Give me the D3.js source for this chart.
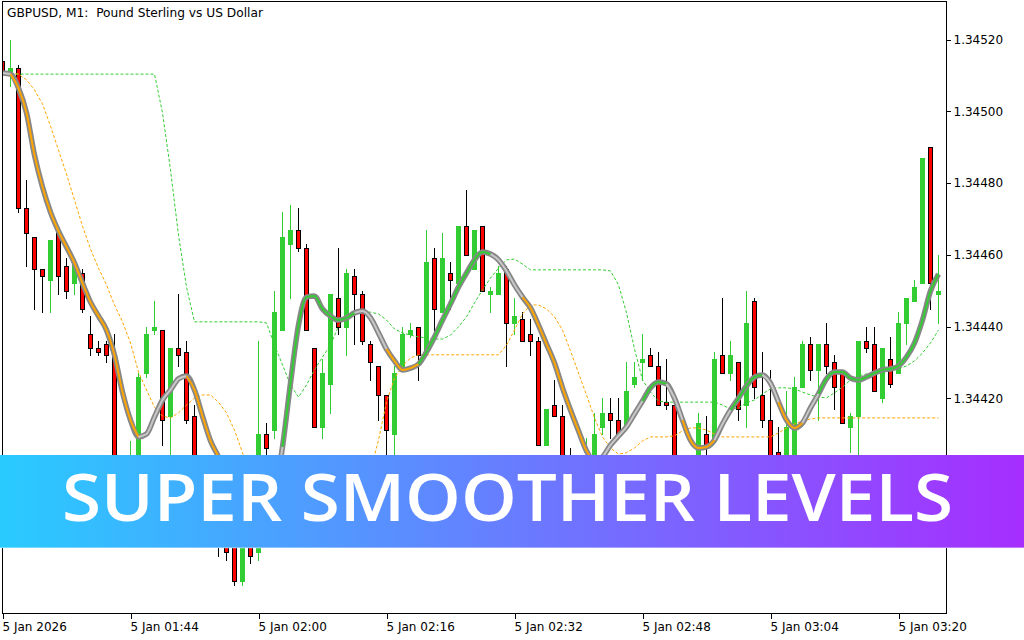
<!DOCTYPE html>
<html><head><meta charset="utf-8">
<script src="https://cdn.jsdelivr.net/npm/d3@7"></script>
<style>body{margin:0;background:#fff}svg{display:block}</style>
</head><body>
<svg id="chart" width="1024" height="640"></svg>
<script>
// ---- DATA (GBPUSD M1, 5 Jan 2026 01:28 .. 03:25) ----
const openP = [1.34514,1.34511,1.34512,1.34473,1.34465,1.34456,1.34453,1.34467,1.34457,1.34452,1.34455,1.34438,1.34434,1.34435,1.34432,1.34393,1.34394,1.34400,1.34427,1.34439,1.34439,1.34415,1.34434,1.34433,1.34415,1.34400,1.34392,1.34385,1.34379,1.34380,1.34369,1.34379,1.34377,1.34410,1.34411,1.34439,1.34463,1.34467,1.34462,1.34434,1.34412,1.34424,1.34448,1.34440,1.34454,1.34449,1.34435,1.34429,1.34421,1.34410,1.34428,1.34438,1.34440,1.34433,1.34459,1.34444,1.34455,1.34452,1.34468,1.34456,1.34468,1.34449,1.34449,1.34456,1.34441,1.34442,1.34438,1.34436,1.34407,1.34418,1.34415,1.34404,1.34396,1.34392,1.34401,1.34412,1.34416,1.34414,1.34412,1.34424,1.34430,1.34432,1.34429,1.34419,1.34418,1.34401,1.34397,1.34400,1.34410,1.34408,1.34432,1.34427,1.34430,1.34418,1.34447,1.34421,1.34414,1.34405,1.34400,1.34401,1.34423,1.34435,1.34428,1.34435,1.34430,1.34428,1.34412,1.34415,1.34436,1.34435,1.34420,1.34431,1.34427,1.34441,1.34447,1.34452,1.34490,1.34449];
const highP = [1.34515,1.34520,1.34513,1.34481,1.34465,1.34456,1.34464,1.34468,1.34459,1.34459,1.34456,1.34443,1.34436,1.34436,1.34438,1.34403,1.34408,1.34427,1.34440,1.34447,1.34439,1.34434,1.34449,1.34436,1.34418,1.34402,1.34393,1.34386,1.34381,1.34381,1.34380,1.34380,1.34436,1.34413,1.34450,1.34472,1.34474,1.34473,1.34463,1.34434,1.34431,1.34449,1.34462,1.34456,1.34456,1.34450,1.34436,1.34429,1.34421,1.34429,1.34440,1.34441,1.34440,1.34467,1.34462,1.34466,1.34458,1.34468,1.34478,1.34467,1.34468,1.34451,1.34457,1.34457,1.34448,1.34444,1.34442,1.34437,1.34417,1.34425,1.34418,1.34406,1.34399,1.34409,1.34416,1.34420,1.34420,1.34420,1.34430,1.34430,1.34438,1.34434,1.34433,1.34431,1.34418,1.34403,1.34403,1.34416,1.34415,1.34433,1.34448,1.34436,1.34430,1.34450,1.34448,1.34433,1.34428,1.34412,1.34422,1.34426,1.34436,1.34437,1.34435,1.34441,1.34432,1.34428,1.34416,1.34436,1.34440,1.34440,1.34434,1.34437,1.34444,1.34448,1.34453,1.34487,1.34490,1.34460];
const lowP = [1.34510,1.34507,1.34472,1.34457,1.34445,1.34444,1.34444,1.34449,1.34448,1.34449,1.34444,1.34432,1.34432,1.34430,1.34398,1.34390,1.34392,1.34397,1.34426,1.34438,1.34407,1.34403,1.34429,1.34413,1.34398,1.34390,1.34383,1.34376,1.34375,1.34368,1.34368,1.34374,1.34375,1.34403,1.34409,1.34439,1.34448,1.34461,1.34439,1.34412,1.34409,1.34416,1.34438,1.34432,1.34435,1.34435,1.34425,1.34414,1.34403,1.34403,1.34428,1.34437,1.34425,1.34432,1.34438,1.34444,1.34445,1.34452,1.34460,1.34456,1.34450,1.34444,1.34449,1.34429,1.34438,1.34436,1.34432,1.34407,1.34407,1.34415,1.34399,1.34393,1.34390,1.34390,1.34400,1.34410,1.34409,1.34410,1.34412,1.34423,1.34425,1.34429,1.34418,1.34417,1.34400,1.34394,1.34395,1.34399,1.34404,1.34408,1.34427,1.34425,1.34414,1.34412,1.34420,1.34412,1.34399,1.34400,1.34399,1.34400,1.34423,1.34425,1.34414,1.34427,1.34417,1.34413,1.34405,1.34403,1.34433,1.34422,1.34419,1.34423,1.34427,1.34435,1.34447,1.34452,1.34445,1.34441];
const closeP = [1.34511,1.34512,1.34473,1.34466,1.34456,1.34454,1.34464,1.34454,1.34450,1.34458,1.34445,1.34434,1.34433,1.34432,1.34400,1.34402,1.34403,1.34426,1.34438,1.34440,1.34414,1.34434,1.34432,1.34414,1.34400,1.34392,1.34385,1.34379,1.34377,1.34369,1.34379,1.34376,1.34410,1.34406,1.34444,1.34465,1.34467,1.34462,1.34439,1.34412,1.34427,1.34449,1.34440,1.34455,1.34449,1.34436,1.34430,1.34421,1.34411,1.34427,1.34438,1.34439,1.34432,1.34458,1.34445,1.34459,1.34453,1.34468,1.34460,1.34467,1.34450,1.34450,1.34455,1.34441,1.34443,1.34436,1.34436,1.34407,1.34417,1.34415,1.34400,1.34396,1.34392,1.34401,1.34410,1.34416,1.34414,1.34410,1.34422,1.34426,1.34431,1.34429,1.34418,1.34418,1.34401,1.34397,1.34400,1.34413,1.34406,1.34431,1.34427,1.34432,1.34417,1.34441,1.34423,1.34414,1.34400,1.34402,1.34412,1.34423,1.34435,1.34428,1.34435,1.34429,1.34423,1.34413,1.34415,1.34436,1.34434,1.34422,1.34434,1.34424,1.34441,1.34448,1.34451,1.34487,1.34452,1.34450];
const smoother = [1.345107,1.345104,1.345065,1.344996,1.344878,1.344789,1.344719,1.344666,1.344622,1.344577,1.344521,1.344468,1.344429,1.344390,1.344320,1.344217,1.344139,1.344092,1.344100,1.344148,1.344195,1.344223,1.344254,1.344262,1.344223,1.344150,1.344081,1.344036,1.343977,1.343902,1.343841,1.343804,1.343796,1.343838,1.343930,1.344064,1.344242,1.344404,1.344482,1.344485,1.344449,1.344429,1.344418,1.344424,1.344438,1.344443,1.344424,1.344382,1.344337,1.344304,1.344279,1.344284,1.344295,1.344329,1.344371,1.344418,1.344463,1.344510,1.344549,1.344586,1.344608,1.344602,1.344586,1.344555,1.344516,1.344482,1.344452,1.344404,1.344351,1.344298,1.344229,1.344167,1.344109,1.344053,1.344022,1.344036,1.344069,1.344095,1.344120,1.344156,1.344192,1.344229,1.344245,1.344240,1.344200,1.344139,1.344083,1.344061,1.344064,1.344083,1.344128,1.344167,1.344200,1.344234,1.344259,1.344265,1.344242,1.344189,1.344139,1.344117,1.344131,1.344173,1.344212,1.344254,1.344273,1.344273,1.344256,1.344251,1.344259,1.344270,1.344279,1.344282,1.344290,1.344315,1.344354,1.344418,1.344499,1.344546];
// s = neutral, o = falling, g = rising
const smootherTrend = "ssooooooooooooooooss ssssoooooooooss sgggggggggssssoooogggggggggssssoooooooooss ssssgggss oooossggggss ooossggggggggggggggg".replace(/ /g,"");
const upperLevel = [null,1.345104,1.345104,1.345104,1.345104,1.345104,1.345104,1.345104,1.345104,1.345104,1.345104,1.345104,1.345104,1.345104,1.345104,1.345104,1.345104,1.345104,1.345104,1.345104,1.344996,1.344837,1.344655,1.344510,1.344413,1.344413,1.344413,1.344413,1.344413,1.344413,1.344413,1.344413,1.344413,1.344410,1.344348,1.344293,1.344237,1.344203,1.344237,1.344279,1.344315,1.344348,1.344401,1.344427,1.344438,1.344440,1.344440,1.344435,1.344418,1.344393,1.344382,1.344376,1.344371,1.344368,1.344365,1.344365,1.344376,1.344399,1.344427,1.344466,1.344502,1.344535,1.344563,1.344586,1.344588,1.344574,1.344558,1.344558,1.344558,1.344558,1.344558,1.344558,1.344558,1.344558,1.344558,1.344558,1.344555,1.344516,1.344438,1.344337,1.344251,1.344217,1.344192,1.344189,1.344189,1.344189,1.344189,1.344189,1.344189,1.344189,1.344181,1.344170,1.344173,1.344187,1.344195,1.344212,1.344226,1.344229,1.344229,1.344226,1.344217,1.344209,1.344203,1.344201,1.344215,1.344231,1.344251,1.344262,1.344268,1.344270,1.344273,1.344276,1.344282,1.344290,1.344304,1.344326,1.344354,1.344390];
const lowerLevel = [null,1.345107,1.345104,1.345088,1.345060,1.345021,1.344959,1.344892,1.344825,1.344753,1.344680,1.344616,1.344563,1.344516,1.344460,1.344413,1.344354,1.344273,1.344223,1.344175,1.344150,1.344145,1.344159,1.344181,1.344201,1.344209,1.344209,1.344189,1.344159,1.344111,1.344048,1.343977,1.343916,1.343874,1.343846,1.343827,1.343816,1.343810,1.343810,1.343816,1.343827,1.343844,1.343866,1.343894,1.343924,1.343958,1.343998,1.344083,1.344189,1.344256,1.344290,1.344312,1.344321,1.344321,1.344321,1.344321,1.344321,1.344321,1.344321,1.344321,1.344321,1.344321,1.344321,1.344348,1.344390,1.344435,1.344460,1.344460,1.344449,1.344427,1.344390,1.344332,1.344270,1.344209,1.344145,1.344092,1.344061,1.344044,1.344048,1.344061,1.344081,1.344092,1.344092,1.344092,1.344095,1.344109,1.344117,1.344117,1.344111,1.344100,1.344092,1.344092,1.344092,1.344092,1.344092,1.344092,1.344092,1.344103,1.344117,1.344128,1.344136,1.344142,1.344145,1.344145,1.344145,1.344145,1.344145,1.344145,1.344145,1.344145,1.344145,1.344145,1.344145,1.344145,1.344145,1.344145,1.344145,1.344145];
const priceTicks = [1.34520,1.34500,1.34480,1.34460,1.34440,1.34420,1.34400,1.34380];
const timeTickBars = [0,16,32,48,64,80,96,112];
const timeLabels = ["5 Jan 2026","5 Jan 01:44","5 Jan 02:00","5 Jan 02:16","5 Jan 02:32","5 Jan 02:48","5 Jan 03:04","5 Jan 03:20"];
const titleText = "GBPUSD, M1:  Pound Sterling vs US Dollar";
const bannerText = "SUPER SMOOTHER LEVELS";

// ---- CHART ----
const svg = d3.select("#chart");
const P = {l:2.5, t:1.5, r:946.5, b:613.5};
const x = d3.scaleLinear().domain([0, 117]).range([2.5, 938.5]);
const y = d3.scaleLinear().domain([1.34420, 1.34520]).range([398.2, 39.7]);
const GREEN = "#32CD32", RED = "#FF0000", ORANGE = "#FFA500";
const FONT = "DejaVu Sans, sans-serif";

svg.append("rect").attr("width",1024).attr("height",640).attr("fill","#fff");
const defs = svg.append("defs");
defs.append("clipPath").attr("id","plotclip").append("rect")
  .attr("x",P.l).attr("y",P.t).attr("width",P.r-P.l).attr("height",P.b-P.t);

const plot = svg.append("g").attr("clip-path","url(#plotclip)");

// candles
const cg = plot.append("g").attr("shape-rendering","crispEdges");
openP.forEach((o,i)=>{
  const c = closeP[i], bull = c >= o;
  const cx = x(i);
  cg.append("line").attr("x1",cx).attr("x2",cx)
    .attr("y1",Math.round(y(highP[i]))).attr("y2",Math.round(y(lowP[i]))+1)
    .attr("stroke", bull?GREEN:"#000").attr("stroke-width",1);
  const yt = Math.round(y(Math.max(o,c))), yb = Math.round(y(Math.min(o,c)));
  if (bull) {
    cg.append("rect").attr("x",cx-2.5).attr("y",yt).attr("width",5)
      .attr("height",Math.max(1,yb-yt+1)).attr("fill",GREEN);
  } else {
    cg.append("rect").attr("x",cx-2).attr("y",yt+0.5).attr("width",4)
      .attr("height",Math.max(1,yb-yt)).attr("fill",RED)
      .attr("stroke","#000").attr("stroke-width",1);
  }
});

// levels
const lvl = d3.line().defined(d=>d!=null).x((d,i)=>x(i)).y(d=>y(d));
plot.append("path").attr("d",lvl(upperLevel)).attr("fill","none")
  .attr("stroke",GREEN).attr("stroke-width",1).attr("stroke-dasharray","3,2");
plot.append("path").attr("d",lvl(lowerLevel)).attr("fill","none")
  .attr("stroke",ORANGE).attr("stroke-width",1).attr("stroke-dasharray","3,2");

// smoother
const sm = d3.line().x(d=>x(d.i)).y(d=>y(d.v)).curve(d3.curveMonotoneX);
const pts = smoother.map((v,i)=>({i,v}));
plot.append("path").attr("d",sm(pts)).attr("fill","none")
  .attr("stroke","#878787").attr("stroke-width",5.5).attr("stroke-linejoin","round");
const trendColor = {s:"#C8C8C8", o:ORANGE, g:GREEN};
let start = 0;
for (let i=1;i<=smoother.length;i++){
  if (i===smoother.length || smootherTrend[i]!==smootherTrend[start]) {
    const seg = pts.slice(Math.max(0,start-1), i);
    plot.append("path").attr("d",sm(seg)).attr("fill","none")
      .attr("stroke",trendColor[smootherTrend[start]]).attr("stroke-width",2);
    start = i;
  }
}

// frame
svg.append("rect").attr("x",P.l).attr("y",P.t).attr("width",P.r-P.l).attr("height",P.b-P.t)
  .attr("fill","none").attr("stroke","#000").attr("stroke-width",1).attr("shape-rendering","crispEdges");

// y axis
const ya = svg.append("g").attr("transform",`translate(${P.r},0)`)
  .call(d3.axisRight(y).tickValues(priceTicks).tickSize(4).tickPadding(3).tickFormat(d3.format(".5f")));
ya.select(".domain").remove();
ya.selectAll("line").attr("stroke","#000").attr("shape-rendering","crispEdges");
ya.selectAll("text").attr("fill","#000").style("font-family",FONT).style("font-size","12px");

// x axis
const xa = svg.append("g").attr("transform",`translate(0,${P.b})`)
  .call(d3.axisBottom(x).tickValues(timeTickBars).tickSize(5).tickPadding(4)
    .tickFormat((d,i)=>timeLabels[i]));
xa.select(".domain").remove();
xa.selectAll("line").attr("stroke","#000").attr("shape-rendering","crispEdges");
xa.selectAll("text").attr("fill","#000").attr("text-anchor","start").attr("dx",-0.5)
  .style("font-family",FONT).style("font-size","12px");

// title
svg.append("text").attr("x",7).attr("y",17).text(titleText)
  .style("font-family",FONT).style("font-size","12px").style("white-space","pre")
  .attr("xml:space","preserve").attr("fill","#000")
  .attr("textLength",256).attr("lengthAdjust","spacingAndGlyphs");

// banner
const grad = defs.append("linearGradient").attr("id","bgrad")
  .attr("x1","0%").attr("x2","100%").attr("y1","0%").attr("y2","0%");
grad.append("stop").attr("offset","0%").attr("stop-color","#29CBFF");
grad.append("stop").attr("offset","100%").attr("stop-color","#A62EFF");
svg.append("rect").attr("x",0).attr("y",455).attr("width",1024).attr("height",93).attr("fill","url(#bgrad)");
svg.append("rect").attr("x",0).attr("y",547).attr("width",1024).attr("height",1.5)
  .attr("fill","#fff").attr("opacity",0.35);
svg.append("text").attr("x",62).attr("y",521).text(bannerText)
  .attr("fill","#fff").style("font-family","Open Sans, sans-serif").style("font-weight",600)
  .style("font-size","66px").attr("textLength",891).attr("lengthAdjust","spacingAndGlyphs");
</script>
</body></html>
